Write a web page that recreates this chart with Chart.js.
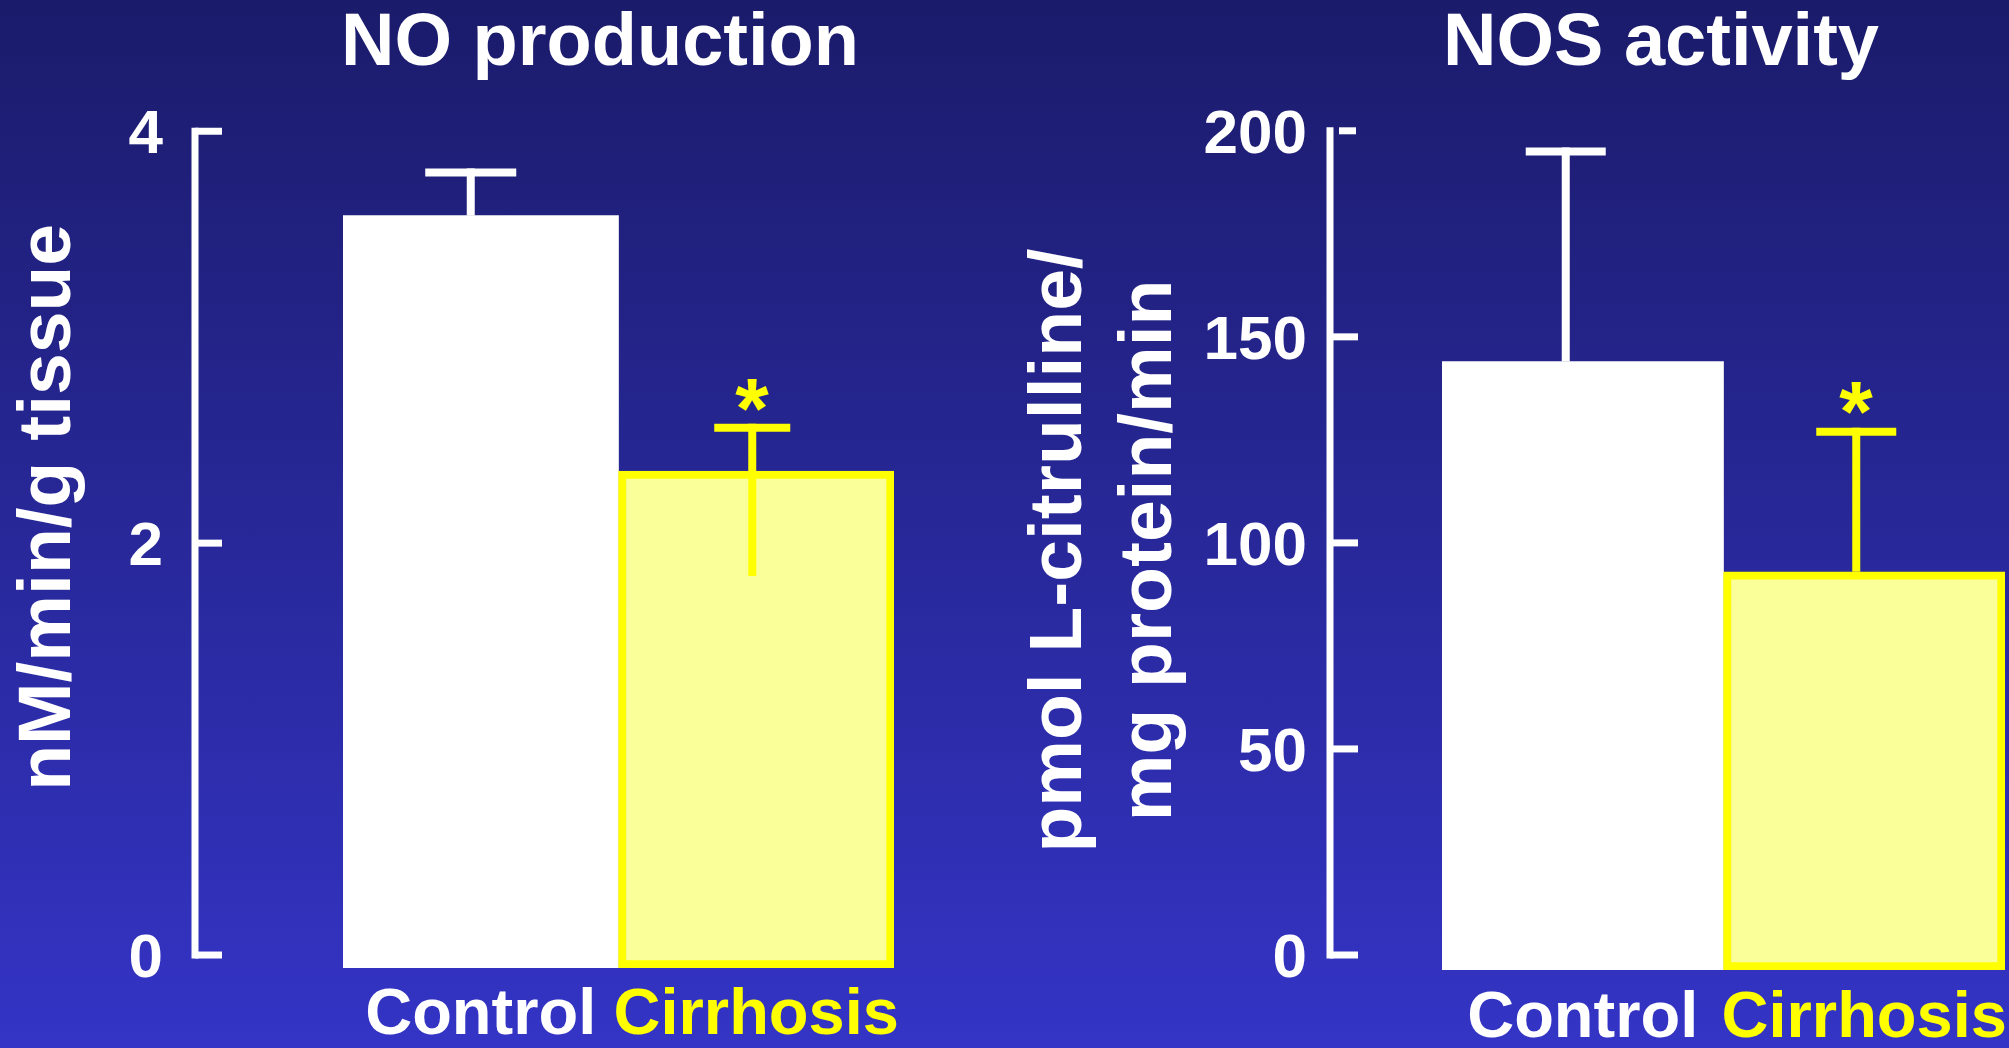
<!DOCTYPE html>
<html>
<head>
<meta charset="utf-8">
<title>NO production and NOS activity</title>
<script src="https://cdn.jsdelivr.net/npm/chart.js@4/dist/chart.umd.min.js"></script>
<style>
  html, body {
    margin: 0;
    padding: 0;
    width: 2009px;
    height: 1048px;
    overflow: hidden;
  }
  body {
    position: relative;
    background: linear-gradient(to bottom, #1b1b6b 0%, #3434c6 100%);
  }
  canvas { position: absolute; top: 0; }
  #noChart { left: 0; }
  #nosChart { left: 1010px; }
</style>
</head>
<body>
<canvas id="noChart" width="1200" height="1048"></canvas>
<canvas id="nosChart" width="1302" height="1048"></canvas>
<script>
// ---- data ----
const categories = ['Control', 'Cirrhosis'];
const significant = [false, true];

const noTitle = 'NO production';
const noAxisTitle = 'nM/min/g tissue';
const noMeans = [3.59, 2.35];
const noErrHigh = [3.80, 2.56];
const noErrLow = [3.59, 1.84];
const noTicks = [0, 2, 4];

const nosTitle = 'NOS activity';
const nosAxisTitle = ['pmol L-citrulline/', 'mg protein/min'];
const nosMeans = [144, 93];
const nosErrHigh = [195, 127];
const nosErrLow = [144, 93];
const nosTicks = [0, 50, 100, 150, 200];

// ---- styling ----
const FONT = "'Liberation Sans', Arial, Helvetica, sans-serif";
const WHITE = '#ffffff';
const YELLOW = '#ffff00';
const PALE_YELLOW = '#fbff9a';
const labelColors = [WHITE, YELLOW];

// Bracket-style value axis, error bars and significance stars,
// all positioned through the chart's own scales and bar elements.
const panelMarks = {
  id: 'panelMarks',
  afterDatasetsDraw(chart, args, o) {
    const { ctx } = chart;
    const y = chart.scales.y;
    const meta = chart.getDatasetMeta(0);
    ctx.save();
    ctx.lineCap = 'butt';

    // axis line with inward ticks
    ctx.strokeStyle = WHITE;
    ctx.lineWidth = o.axisWidth;
    const tickVals = o.ticks;
    const yTop = y.getPixelForValue(tickVals[tickVals.length - 1]);
    const yZero = y.getPixelForValue(tickVals[0]);
    ctx.beginPath();
    ctx.moveTo(o.axisX, yTop - o.axisWidth / 2);
    ctx.lineTo(o.axisX, yZero + o.axisWidth / 2);
    ctx.stroke();
    tickVals.forEach((v, i) => {
      const py = y.getPixelForValue(v);
      const top = i === tickVals.length - 1;
      const x0 = top && o.topTickGap ? o.axisX + o.topTickGap : o.axisX;
      const x1 = o.axisX + (top && o.topTickLen ? o.topTickLen : o.tickLen);
      ctx.beginPath();
      ctx.moveTo(x0, py);
      ctx.lineTo(x1, py);
      ctx.stroke();
    });

    // error bars
    ctx.lineWidth = o.errWidth;
    o.high.forEach((hi, i) => {
      const bar = meta.data[i];
      const x = bar.x + o.shift[i];
      const yHi = y.getPixelForValue(hi);
      const yLo = y.getPixelForValue(o.low[i]);
      const cap = o.capWidth[i];
      ctx.strokeStyle = labelColors[i];
      ctx.beginPath();
      ctx.moveTo(x, yLo);
      ctx.lineTo(x, yHi - o.errWidth / 2);
      ctx.stroke();
      ctx.beginPath();
      ctx.moveTo(x - cap / 2, yHi);
      ctx.lineTo(x + cap / 2, yHi);
      ctx.stroke();

      if (significant[i]) {
        ctx.fillStyle = labelColors[i];
        ctx.font = 'bold ' + o.starSize + 'px ' + FONT;
        ctx.textAlign = 'left';
        ctx.textBaseline = 'alphabetic';
        const m = ctx.measureText('*');
        const w = m.actualBoundingBoxLeft + m.actualBoundingBoxRight;
        const cy = yHi - o.starGap;
        const dx = x - w / 2 + m.actualBoundingBoxLeft;
        const dy = cy + (m.actualBoundingBoxAscent - m.actualBoundingBoxDescent) / 2;
        ctx.fillText('*', dx, dy);
      }
    });
    ctx.restore();
  }
};

function makeChart(canvasId, cfg) {
  return new Chart(document.getElementById(canvasId), {
    type: 'bar',
    data: {
      labels: categories,
      datasets: [{
        data: cfg.means,
        base: cfg.floor,
        backgroundColor: [WHITE, PALE_YELLOW],
        borderColor: [WHITE, YELLOW],
        borderWidth: [0, 8],
        borderSkipped: false,
        categoryPercentage: 1,
        barPercentage: 1
      }]
    },
    plugins: [panelMarks],
    options: {
      responsive: false,
      animation: false,
      events: [],
      layout: { padding: 0 },
      plugins: {
        legend: { display: false },
        tooltip: { enabled: false },
        title: {
          display: true,
          text: cfg.title,
          color: WHITE,
          font: { family: FONT, size: 74, weight: 'bold', lineHeight: 1.2 },
          padding: { top: 0, bottom: cfg.titleGap }
        },
        panelMarks: cfg.marks
      },
      scales: {
        x: {
          type: 'category',
          grid: { display: false, drawTicks: false },
          border: { display: false },
          ticks: {
            color: labelColors,
            font: { family: FONT, size: 65, weight: 'bold', lineHeight: 1.2 },
            padding: cfg.xLabelPad,
            maxRotation: 0,
            autoSkip: false
          },
          afterFit(s) { s.height = cfg.xHeight; }
        },
        y: {
          type: 'linear',
          min: cfg.floor,
          max: cfg.ceiling,
          // tick marks are drawn by panelMarks; the tick length only spaces the labels
          grid: { display: false, drawTicks: true, tickLength: cfg.yLabelGap },
          border: { display: false },
          afterBuildTicks(s) { s.ticks = cfg.ticks.map(v => ({ value: v })); },
          ticks: {
            color: WHITE,
            font: { family: FONT, size: 62, weight: 'bold' },
            padding: 0,
            labelOffset: 5
          },
          title: {
            display: true,
            text: cfg.axisTitle,
            color: WHITE,
            font: { family: FONT, size: 75, weight: 'bold', lineHeight: 1.2 },
            padding: { top: cfg.yTitlePad, bottom: 0 }
          },
          afterFit(s) { s.width = cfg.yWidth; }
        },
        // empty margin on the right of the plot
        margin: {
          type: 'linear',
          position: 'right',
          grid: { display: false, drawTicks: false },
          border: { display: false },
          ticks: { display: false },
          afterFit(s) { s.width = cfg.rightGap; }
        }
      }
    }
  });
}

makeChart('noChart', {
  title: noTitle,
  axisTitle: noAxisTitle,
  means: noMeans,
  ticks: noTicks,
  floor: -0.063,
  ceiling: 4.41,
  titleGap: -42,
  rightGap: 306,
  yWidth: 343,
  yLabelGap: 180,
  yTitlePad: 4,
  xHeight: 80,
  xLabelPad: 9,
  marks: {
    ticks: noTicks, high: noErrHigh, low: noErrLow,
    axisX: 195, axisWidth: 7, tickLen: 27,
    errWidth: 8, capWidth: [91, 76], shift: [-10, -4],
    starSize: 86, starGap: 33
  }
});

makeChart('nosChart', {
  title: nosTitle,
  axisTitle: nosAxisTitle,
  means: nosMeans,
  ticks: nosTicks,
  floor: -3.64,
  ceiling: 200,
  titleGap: 42,
  rightGap: 307,
  yWidth: 432,
  yLabelGap: 135,
  yTitlePad: 5,
  xHeight: 78,
  xLabelPad: 10,
  marks: {
    ticks: nosTicks, high: nosErrHigh, low: nosErrLow,
    axisX: 320, axisWidth: 7, tickLen: 28, topTickGap: 9, topTickLen: 26,
    errWidth: 8, capWidth: [80, 80], shift: [-17, -8],
    starSize: 86, starGap: 34
  }
});
</script>
</body>
</html>
